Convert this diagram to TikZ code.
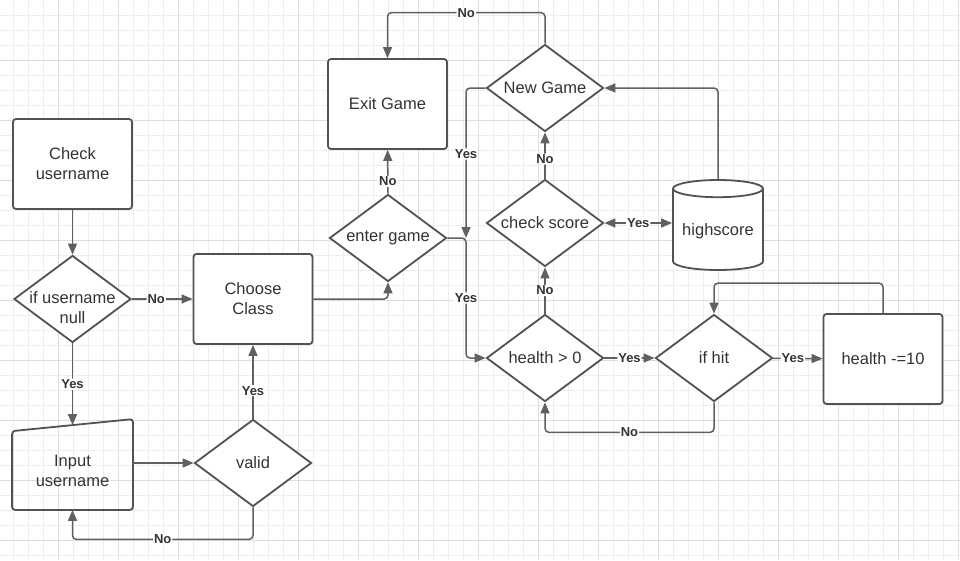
\documentclass[tikz,border=0pt]{standalone}
\usepackage{fontspec}
\setmainfont{Liberation Sans}
\usetikzlibrary{shapes.geometric,arrows.meta}
\definecolor{edgegray}{RGB}{96,96,96}
\definecolor{boxgray}{RGB}{82,82,82}
\definecolor{txtgray}{RGB}{51,51,51}
\definecolor{minorgrid}{RGB}{238,238,238}
\definecolor{majorgrid}{RGB}{222,222,222}
\begin{document}
\begin{tikzpicture}[x=1pt, y=-1pt,
  procbox/.style={rectangle, rounded corners=3pt, draw=boxgray, line width=1.8pt, fill=white, minimum width=119pt, minimum height=90pt, align=center, text=txtgray, font=\fontsize{16.5pt}{20pt}\selectfont},
  decision/.style={diamond, draw=boxgray, line width=1.8pt, fill=white, minimum width=117pt, minimum height=87pt, inner sep=-10pt, align=center, text=txtgray, font=\fontsize{16.5pt}{20pt}\selectfont},
  dtext/.style={align=center, inner sep=0pt, text=txtgray, font=\fontsize{16.5pt}{20pt}\selectfont},
  store/.style={cylinder, shape border rotate=90, aspect=0.22, draw=boxgray, line width=1.8pt, fill=white, minimum width=90pt, minimum height=90pt, text=txtgray, font=\fontsize{16.5pt}{20pt}\selectfont},
  flow/.style={draw=edgegray, line width=1.5pt, rounded corners=4pt, -{Triangle[length=11pt,width=9pt]}},
  yesno/.style={fill=white, inner sep=1pt, text=txtgray, font=\fontsize{13pt}{15pt}\bfseries\selectfont}]
  \useasboundingbox[fill=white] (0,0) rectangle (960,560);

  % grid paper
  \foreach \gx in {13.3,28.3,...,960} \draw[minorgrid, line width=0.6pt] (\gx,0) -- (\gx,560);
  \foreach \gy in {15,30,...,560} \draw[minorgrid, line width=0.6pt] (0,\gy) -- (960,\gy);
  \foreach \gx in {58.3,118.3,...,960} \draw[majorgrid, line width=0.6pt] (\gx,0) -- (\gx,560);
  \foreach \gy in {60,120,...,560} \draw[majorgrid, line width=0.6pt] (0,\gy) -- (960,\gy);

  % login part
  \node[procbox] (check) at (72.5,164) {Check\\username};
  \node[decision] (null) at (72.5,299) {};
  \node[dtext] (nulltext) at (72.5,308) {if username\\null};
  \node[procbox, draw=none, fill=none, minimum height=77pt] (inp) at (72.5,470.5) {Input\\username};
  \node[decision] (valid) at (253,463) {valid};
  \node[procbox] (class) at (253,299) {Choose\\Class};
  \draw[draw=boxgray, line width=1.8pt, rounded corners=3pt] (inp.north west) -- ([yshift=12pt]inp.north east) -- (inp.south east) -- (inp.south west) -- cycle;
  \coordinate (inptop) at ([yshift=6pt]inp.north);

  % game part
  \node[decision] (enter) at (388,238) {enter game};
  \node[procbox] (exit) at (387.5,104) {Exit Game};
  \node[decision] (newgame) at (545,88) {New Game};
  \node[decision] (score) at (545,223) {check score};
  \node[store, anchor=shape center] (high) at (718,225) {highscore};
  \node[decision] (alive) at (545,358) {health > 0};
  \node[decision] (hit) at (714,358) {if hit};
  \node[procbox] (damage) at (883,359) {health -=10};
  \coordinate (join) at (466,238);

  \draw[flow] (check) -- (null);
  \draw[flow] (null) -- node[yesno, pos=0.4] {No} (class);
  \draw[flow] (null) -- node[yesno] {Yes} (inptop);
  \draw[flow] (inp.east |- valid.west) -- (valid);
  \draw[flow] (valid) -- node[yesno, pos=0.38] {Yes} (class);
  \draw[flow] (valid.south) -- ++(0,32) -| node[yesno, pos=0.25] {No} (inp.south);
  \draw[flow] (class.east) -| (enter.south);
  \draw[flow] (enter) -- node[yesno, pos=0.28] {No} (exit);
  \draw[flow] (enter.east) -- (join) |- node[yesno, pos=0.25] {Yes} (alive.west);
  \draw[flow] (newgame.west) -| node[yesno, pos=0.72] {Yes} (join);
  \draw[flow] (newgame.north) -- ++(0,-31) -| node[yesno, pos=0.25] {No} (exit.north);
  \draw[flow] (score) -- node[yesno, pos=0.42] {No} (newgame);
  \draw[flow] (alive) -- node[yesno] {No} (score);
  \draw[flow, {Triangle[length=11pt,width=9pt]}-{Triangle[length=11pt,width=9pt]}] (score.east) -- node[yesno] {Yes} (score.east -| high.west);
  \draw[flow] (high.north) |- (newgame.east);
  \draw[flow] (alive) -- node[yesno] {Yes} (hit);
  \draw[flow] (hit) -- node[yesno, pos=0.4] {Yes} (damage);
  \draw[flow] (damage.north) -- ++(0,-30) -| (hit.north);
  \draw[flow] (hit.south) -- ++(0,30) -| node[yesno, pos=0.25] {No} (alive.south);
\end{tikzpicture}
\end{document}
